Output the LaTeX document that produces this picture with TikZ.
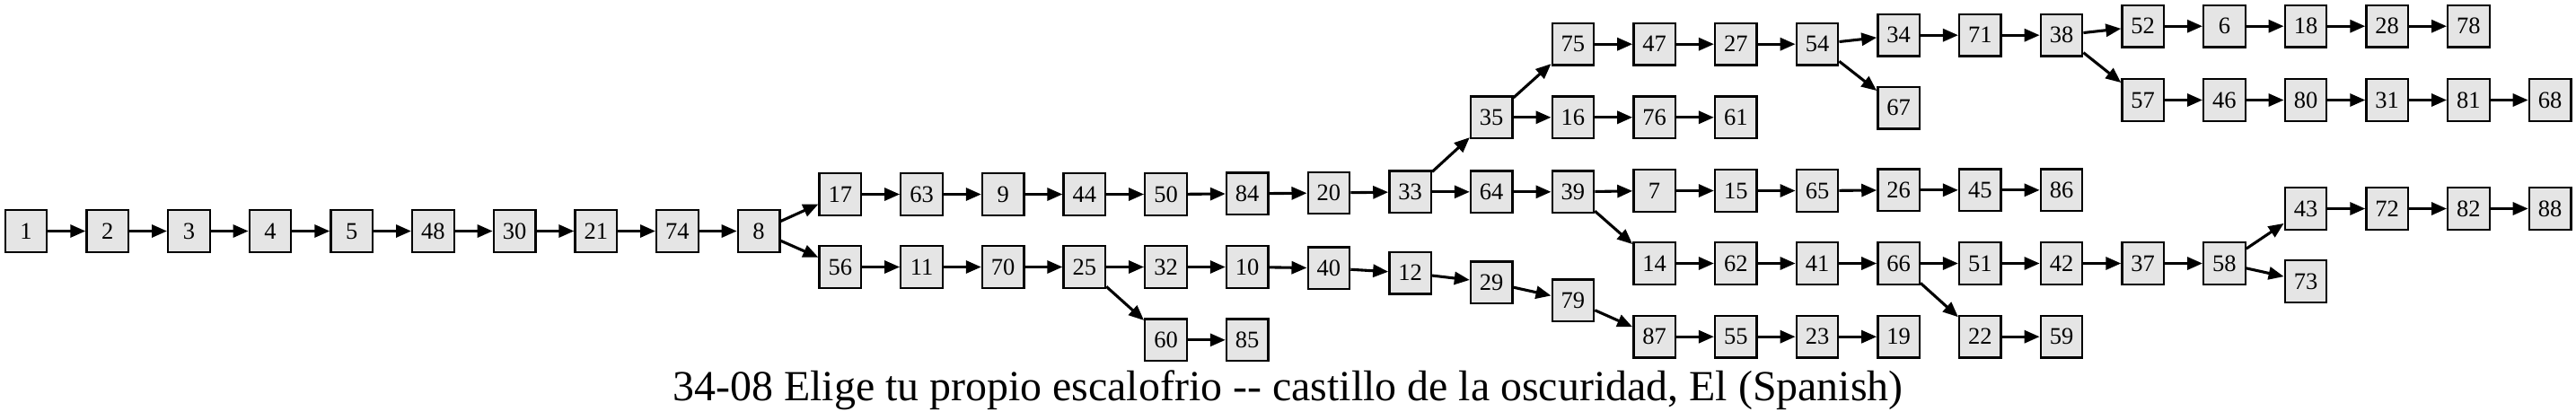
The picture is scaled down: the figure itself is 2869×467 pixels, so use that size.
\documentclass[tikz,border=0pt]{standalone}
\usepackage{fontspec}
\setmainfont{Liberation Serif}
\usetikzlibrary{arrows.meta}
\definecolor{boxgray}{HTML}{E5E5E5}
\begin{document}
\begin{tikzpicture}[x=1pt,y=-1pt,
  pg/.style={draw=black, fill=boxgray, line width=2.3pt, minimum width=46.5pt, minimum height=46.5pt, inner sep=0pt, font=\fontsize{26.5}{26.5}\selectfont},
  edge/.style={line width=3.1pt, -{Triangle[length=17pt,width=14pt]}},
  ttl/.style={anchor=base, inner sep=0pt, font=\fontsize{47.9}{50}\selectfont}]
\useasboundingbox (0,0) rectangle (2869,467);
% rank 0-9
\node[pg] (n1)  at (29.0,257.5) {1};
\node[pg] (n2)  at (119.7,257.5) {2};
\node[pg] (n3)  at (210.4,257.5) {3};
\node[pg] (n4)  at (301.0,257.5) {4};
\node[pg] (n5)  at (391.7,257.5) {5};
\node[pg] (n48) at (482.4,257.5) {48};
\node[pg] (n30) at (573.1,257.5) {30};
\node[pg] (n21) at (663.8,257.5) {21};
\node[pg] (n74) at (754.4,257.5) {74};
\node[pg] (n8)  at (845.1,257.5) {8};
% rank 10-14
\node[pg] (n17) at (935.8,216.5) {17};
\node[pg] (n56) at (935.8,297.5) {56};
\node[pg] (n63) at (1026.5,216.5) {63};
\node[pg] (n11) at (1026.5,297.5) {11};
\node[pg] (n9)  at (1117.2,216.5) {9};
\node[pg] (n70) at (1117.2,297.5) {70};
\node[pg] (n44) at (1207.8,216.5) {44};
\node[pg] (n25) at (1207.8,297.5) {25};
\node[pg] (n50) at (1298.5,216.5) {50};
\node[pg] (n32) at (1298.5,297.5) {32};
\node[pg] (n60) at (1298.5,378.8) {60};
% rank 15-19
\node[pg] (n84) at (1389.2,215.8) {84};
\node[pg] (n10) at (1389.2,297.5) {10};
\node[pg] (n85) at (1389.2,378.8) {85};
\node[pg] (n20) at (1479.9,215.0) {20};
\node[pg] (n40) at (1479.9,298.8) {40};
\node[pg] (n33) at (1570.6,213.8) {33};
\node[pg] (n12) at (1570.6,304.2) {12};
\node[pg] (n35) at (1661.2,130.8) {35};
\node[pg] (n64) at (1661.2,213.8) {64};
\node[pg] (n29) at (1661.2,314.8) {29};
\node[pg] (n75) at (1751.9,49.2) {75};
\node[pg] (n16) at (1751.9,130.8) {16};
\node[pg] (n39) at (1751.9,213.8) {39};
\node[pg] (n79) at (1751.9,334.8) {79};
% rank 20-24
\node[pg] (n47) at (1842.6,49.2) {47};
\node[pg] (n76) at (1842.6,130.8) {76};
\node[pg] (n7)  at (1842.6,212.5) {7};
\node[pg] (n14) at (1842.6,293.5) {14};
\node[pg] (n87) at (1842.6,375.2) {87};
\node[pg] (n27) at (1933.3,49.2) {27};
\node[pg] (n61) at (1933.3,130.8) {61};
\node[pg] (n15) at (1933.3,212.5) {15};
\node[pg] (n62) at (1933.3,293.5) {62};
\node[pg] (n55) at (1933.3,375.2) {55};
\node[pg] (n54) at (2024.0,49.2) {54};
\node[pg] (n65) at (2024.0,212.5) {65};
\node[pg] (n41) at (2024.0,293.5) {41};
\node[pg] (n23) at (2024.0,375.2) {23};
\node[pg] (n34) at (2114.6,39.2) {34};
\node[pg] (n67) at (2114.6,120.2) {67};
\node[pg] (n26) at (2114.6,211.8) {26};
\node[pg] (n66) at (2114.6,293.5) {66};
\node[pg] (n19) at (2114.6,375.2) {19};
\node[pg] (n71) at (2205.3,39.2) {71};
\node[pg] (n45) at (2205.3,211.8) {45};
\node[pg] (n51) at (2205.3,293.5) {51};
\node[pg] (n22) at (2205.3,375.2) {22};
% rank 25-31
\node[pg] (n38) at (2296.0,39.2) {38};
\node[pg] (n86) at (2296.0,211.8) {86};
\node[pg] (n42) at (2296.0,293.5) {42};
\node[pg] (n59) at (2296.0,375.2) {59};
\node[pg] (n52) at (2386.7,29.2) {52};
\node[pg] (n57) at (2386.7,111.5) {57};
\node[pg] (n37) at (2386.7,293.5) {37};
\node[pg] (n6)  at (2477.4,29.2) {6};
\node[pg] (n46) at (2477.4,111.5) {46};
\node[pg] (n58) at (2477.4,293.5) {58};
\node[pg] (n18) at (2568.0,29.2) {18};
\node[pg] (n80) at (2568.0,111.5) {80};
\node[pg] (n43) at (2568.0,232.5) {43};
\node[pg] (n73) at (2568.0,313.5) {73};
\node[pg] (n28) at (2658.7,29.2) {28};
\node[pg] (n31) at (2658.7,111.5) {31};
\node[pg] (n72) at (2658.7,232.5) {72};
\node[pg] (n78) at (2749.4,29.2) {78};
\node[pg] (n81) at (2749.4,111.5) {81};
\node[pg] (n82) at (2749.4,232.5) {82};
\node[pg] (n68) at (2840.1,111.5) {68};
\node[pg] (n88) at (2840.1,232.5) {88};
% edges
\foreach \a/\b in {1/2,2/3,3/4,4/5,5/48,48/30,30/21,21/74,74/8,
  8/17,8/56,17/63,63/9,9/44,44/50,50/84,84/20,20/33,
  33/35,33/64,35/75,35/16,75/47,47/27,27/54,54/34,54/67,
  34/71,71/38,38/52,38/57,52/6,6/18,18/28,28/78,
  57/46,46/80,80/31,31/81,81/68,16/76,76/61,64/39,
  39/7,39/14,7/15,15/65,65/26,26/45,45/86,
  14/62,62/41,41/66,66/51,66/22,51/42,42/37,37/58,
  58/43,58/73,43/72,72/82,82/88,22/59,
  56/11,11/70,70/25,25/32,25/60,32/10,10/40,40/12,12/29,29/79,79/87,
  87/55,55/23,23/19,60/85}
  \draw[edge] (n\a) -- (n\b);
\node[ttl] (title) at (1434.5,446.7) {34-08 Elige tu propio escalofrio -{}- castillo de la oscuridad, El (Spanish)};
\end{tikzpicture}
\end{document}
